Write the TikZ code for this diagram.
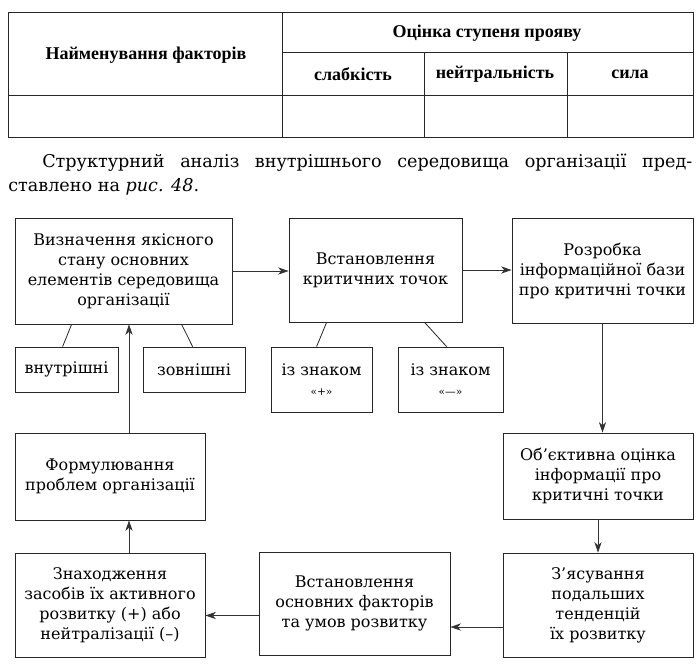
\documentclass[tikz,border=0pt]{standalone}
\usepackage{fontspec}
\setmainfont{DejaVu Serif}
\newfontfamily\tabfont{Liberation Serif}
\usetikzlibrary{arrows.meta, positioning, calc}

\tikzset{
  blk/.style={draw=black!85, line width=0.6pt, align=center, inner sep=1pt,
    font=\fontsize{12}{15}\selectfont},
  box/.style 2 args={blk, minimum width=#1*0.75pt, minimum height=#2*0.75pt},
  arr/.style={draw=black!80, line width=0.6pt, -{Stealth[length=8pt,width=5.5pt]}},
  lnk/.style={draw=black!85, line width=0.6pt},
  tab/.style={draw=black!85, line width=0.6pt},
  tabtxt/.style={font=\tabfont\bfseries\fontsize{13.5}{15}\selectfont, inner sep=0pt},
  partxt/.style={anchor=base west, inner sep=0pt, font=\fontsize{13.2}{16}\selectfont},
}

\begin{document}
\begin{tikzpicture}[x=0.75pt, y=-0.75pt]
\useasboundingbox (0,0) rectangle (699,664);

% table of factors
\draw[tab] (8,12) rectangle (693,137);
\draw[tab] (282,12) -- (282,137);
\draw[tab] (282,52) -- (693,52);
\draw[tab] (8,95) -- (693,95);
\draw[tab] (424,52) -- (424,137);
\draw[tab] (567,52) -- (567,137);
\node[tabtxt] (naim) at (146,55) {Найменування факторів};
\node[tabtxt] (ocin) at (487,33) {Оцінка ступеня прояву};
\node[tabtxt] (slab) at (353,74) {слабкість};
\node[tabtxt] (neit) at (495,74) {нейтральність};
\node[tabtxt] (syla) at (630,74) {сила};

% paragraph
\node[partxt] (par1) at (42,167)
  {\makebox[487.5pt][s]{Структурний аналіз внутрішнього середовища організації пред-}};
\node[partxt] (par2) at (8,191) {ставлено на \textit{рис. 48}.};

% top row
\node[box={217}{106}] (viz) at (123.5,271)
  {Визначення якісного\\стану основних\\елементів середовища\\організації};
\node[box={173}{104}] (vst) at (375.5,270) {Встановлення\\критичних точок};
\node[box={181}{105}] (rozr) at (602.5,270.5)
  {Розробка\\інформаційної бази\\про критичні точки};

% kinds of elements and points
\node[box={103}{45}] (vnut) at (66.5,369.5) {внутрішні};
\node[box={102}{45}] (zovn) at (194,369.5) {зовнішні};
\node[box={101}{65}] (plus) at (321.5,379.5) {із знаком\\{\footnotesize «+»}};
\node[box={105}{65}] (minus) at (450.5,379.5) {із знаком\\{\footnotesize «—»}};

% middle row
\node[box={190}{87}] (form) at (110,476.5) {Формулювання\\проблем організації};
\node[box={190}{86}] (obj) at (598,476)
  {Об’єктивна оцінка\\інформації про\\критичні точки};

% bottom row
\node[box={190}{104}] (znah) at (110,605)
  {Знаходження\\засобів їх активного\\розвитку (+) або\\нейтралізації (–)};
\node[box={191}{103}] (vstf) at (354.5,603.5)
  {Встановлення\\основних факторів\\та умов розвитку};
\node[box={190}{104}] (zyas) at (598,605)
  {З’ясування\\подальших\\тенденцій\\їх розвитку};

\coordinate (spine) at (129,0);

% arrows
\draw[arr] (viz.east) -- (viz.east -| vst.west);
\draw[arr] (vst.east) -- (vst.east -| rozr.west);
\draw[arr] (rozr.south) -- (rozr.south |- obj.north);
\draw[arr] (obj.south) -- (obj.south |- zyas.north);
\draw[arr] ([yshift=-16.5pt]zyas.west) -- ([yshift=-16.5pt]zyas.west -| vstf.east);
\draw[arr] ([yshift=-9pt]vstf.west) -- ([yshift=-9pt]vstf.west -| znah.east);
\draw[arr] (znah.north -| spine) -- (form.south -| spine);
\draw[arr] (form.north -| spine) -- (viz.south -| spine);

% links
\draw[lnk] ($(viz.south west)+(57,0)$) -- ($(vnut.north west)+(48,0)$);
\draw[lnk] ($(viz.south west)+(167,0)$) -- ($(zovn.north west)+(50,0)$);
\draw[lnk] ($(vst.south west)+(38,0)$) -- ($(plus.north west)+(46,0)$);
\draw[lnk] ($(vst.south west)+(136,0)$) -- ($(minus.north west)+(49,0)$);
\end{tikzpicture}
\end{document}
